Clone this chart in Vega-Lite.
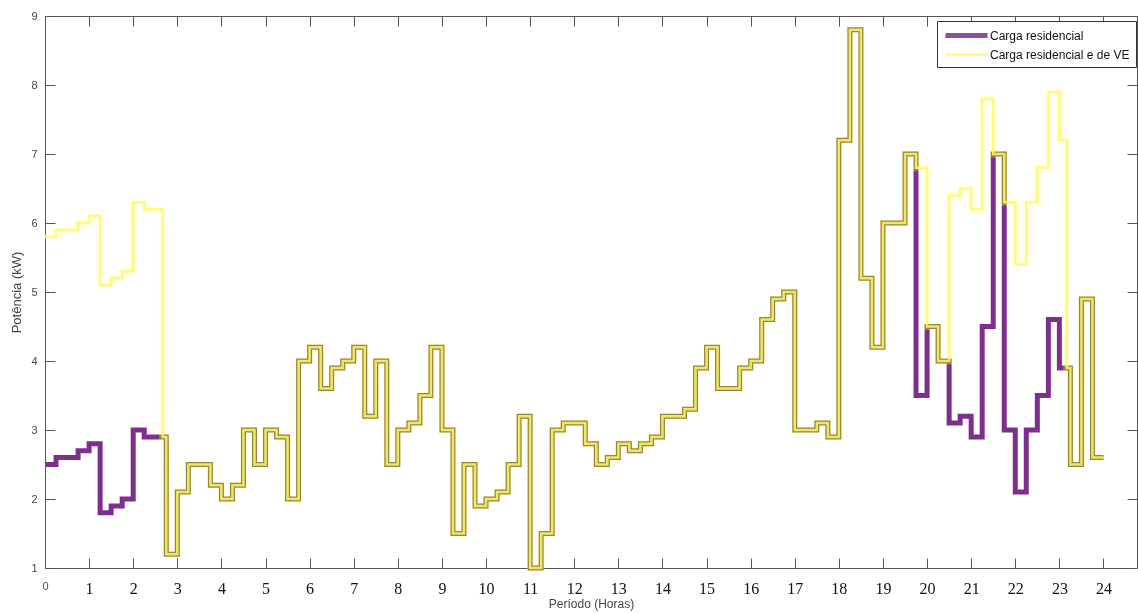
{
  "$schema": "https://vega.github.io/schema/vega-lite/v6.json",
  "autosize": "none",
  "width": 1092,
  "height": 552,
  "padding": {"left": 45, "top": 16, "right": 1, "bottom": 45},
  "background": "white",
  "config": {
    "view": {"stroke": null},
    "axis": {"grid": false, "domainColor": "#555555", "tickColor": "#555555", "domainWidth": 1, "tickWidth": 1}
  },
  "data": {"values": [
    {"serie":"Carga residencial","hora":0,"potencia":2.5},
    {"serie":"Carga residencial","hora":0.25,"potencia":2.6},
    {"serie":"Carga residencial","hora":0.5,"potencia":2.6},
    {"serie":"Carga residencial","hora":0.75,"potencia":2.7},
    {"serie":"Carga residencial","hora":1,"potencia":2.8},
    {"serie":"Carga residencial","hora":1.25,"potencia":1.8},
    {"serie":"Carga residencial","hora":1.5,"potencia":1.9},
    {"serie":"Carga residencial","hora":1.75,"potencia":2.0},
    {"serie":"Carga residencial","hora":2,"potencia":3.0},
    {"serie":"Carga residencial","hora":2.25,"potencia":2.9},
    {"serie":"Carga residencial","hora":2.5,"potencia":2.9},
    {"serie":"Carga residencial","hora":2.75,"potencia":1.2},
    {"serie":"Carga residencial","hora":3,"potencia":2.1},
    {"serie":"Carga residencial","hora":3.25,"potencia":2.5},
    {"serie":"Carga residencial","hora":3.5,"potencia":2.5},
    {"serie":"Carga residencial","hora":3.75,"potencia":2.2},
    {"serie":"Carga residencial","hora":4,"potencia":2.0},
    {"serie":"Carga residencial","hora":4.25,"potencia":2.2},
    {"serie":"Carga residencial","hora":4.5,"potencia":3.0},
    {"serie":"Carga residencial","hora":4.75,"potencia":2.5},
    {"serie":"Carga residencial","hora":5,"potencia":3.0},
    {"serie":"Carga residencial","hora":5.25,"potencia":2.9},
    {"serie":"Carga residencial","hora":5.5,"potencia":2.0},
    {"serie":"Carga residencial","hora":5.75,"potencia":4.0},
    {"serie":"Carga residencial","hora":6,"potencia":4.2},
    {"serie":"Carga residencial","hora":6.25,"potencia":3.6},
    {"serie":"Carga residencial","hora":6.5,"potencia":3.9},
    {"serie":"Carga residencial","hora":6.75,"potencia":4.0},
    {"serie":"Carga residencial","hora":7,"potencia":4.2},
    {"serie":"Carga residencial","hora":7.25,"potencia":3.2},
    {"serie":"Carga residencial","hora":7.5,"potencia":4.0},
    {"serie":"Carga residencial","hora":7.75,"potencia":2.5},
    {"serie":"Carga residencial","hora":8,"potencia":3.0},
    {"serie":"Carga residencial","hora":8.25,"potencia":3.1},
    {"serie":"Carga residencial","hora":8.5,"potencia":3.5},
    {"serie":"Carga residencial","hora":8.75,"potencia":4.2},
    {"serie":"Carga residencial","hora":9,"potencia":3.0},
    {"serie":"Carga residencial","hora":9.25,"potencia":1.5},
    {"serie":"Carga residencial","hora":9.5,"potencia":2.5},
    {"serie":"Carga residencial","hora":9.75,"potencia":1.9},
    {"serie":"Carga residencial","hora":10,"potencia":2.0},
    {"serie":"Carga residencial","hora":10.25,"potencia":2.1},
    {"serie":"Carga residencial","hora":10.5,"potencia":2.5},
    {"serie":"Carga residencial","hora":10.75,"potencia":3.2},
    {"serie":"Carga residencial","hora":11,"potencia":1.0},
    {"serie":"Carga residencial","hora":11.25,"potencia":1.5},
    {"serie":"Carga residencial","hora":11.5,"potencia":3.0},
    {"serie":"Carga residencial","hora":11.75,"potencia":3.1},
    {"serie":"Carga residencial","hora":12,"potencia":3.1},
    {"serie":"Carga residencial","hora":12.25,"potencia":2.8},
    {"serie":"Carga residencial","hora":12.5,"potencia":2.5},
    {"serie":"Carga residencial","hora":12.75,"potencia":2.6},
    {"serie":"Carga residencial","hora":13,"potencia":2.8},
    {"serie":"Carga residencial","hora":13.25,"potencia":2.7},
    {"serie":"Carga residencial","hora":13.5,"potencia":2.8},
    {"serie":"Carga residencial","hora":13.75,"potencia":2.9},
    {"serie":"Carga residencial","hora":14,"potencia":3.2},
    {"serie":"Carga residencial","hora":14.25,"potencia":3.2},
    {"serie":"Carga residencial","hora":14.5,"potencia":3.3},
    {"serie":"Carga residencial","hora":14.75,"potencia":3.9},
    {"serie":"Carga residencial","hora":15,"potencia":4.2},
    {"serie":"Carga residencial","hora":15.25,"potencia":3.6},
    {"serie":"Carga residencial","hora":15.5,"potencia":3.6},
    {"serie":"Carga residencial","hora":15.75,"potencia":3.9},
    {"serie":"Carga residencial","hora":16,"potencia":4.0},
    {"serie":"Carga residencial","hora":16.25,"potencia":4.6},
    {"serie":"Carga residencial","hora":16.5,"potencia":4.9},
    {"serie":"Carga residencial","hora":16.75,"potencia":5.0},
    {"serie":"Carga residencial","hora":17,"potencia":3.0},
    {"serie":"Carga residencial","hora":17.25,"potencia":3.0},
    {"serie":"Carga residencial","hora":17.5,"potencia":3.1},
    {"serie":"Carga residencial","hora":17.75,"potencia":2.9},
    {"serie":"Carga residencial","hora":18,"potencia":7.2},
    {"serie":"Carga residencial","hora":18.25,"potencia":8.8},
    {"serie":"Carga residencial","hora":18.5,"potencia":5.2},
    {"serie":"Carga residencial","hora":18.75,"potencia":4.2},
    {"serie":"Carga residencial","hora":19,"potencia":6.0},
    {"serie":"Carga residencial","hora":19.25,"potencia":6.0},
    {"serie":"Carga residencial","hora":19.5,"potencia":7.0},
    {"serie":"Carga residencial","hora":19.75,"potencia":3.5},
    {"serie":"Carga residencial","hora":20,"potencia":4.5},
    {"serie":"Carga residencial","hora":20.25,"potencia":4.0},
    {"serie":"Carga residencial","hora":20.5,"potencia":3.1},
    {"serie":"Carga residencial","hora":20.75,"potencia":3.2},
    {"serie":"Carga residencial","hora":21,"potencia":2.9},
    {"serie":"Carga residencial","hora":21.25,"potencia":4.5},
    {"serie":"Carga residencial","hora":21.5,"potencia":7.0},
    {"serie":"Carga residencial","hora":21.75,"potencia":3.0},
    {"serie":"Carga residencial","hora":22,"potencia":2.1},
    {"serie":"Carga residencial","hora":22.25,"potencia":3.0},
    {"serie":"Carga residencial","hora":22.5,"potencia":3.5},
    {"serie":"Carga residencial","hora":22.75,"potencia":4.6},
    {"serie":"Carga residencial","hora":23,"potencia":3.9},
    {"serie":"Carga residencial","hora":23.25,"potencia":2.5},
    {"serie":"Carga residencial","hora":23.5,"potencia":4.9},
    {"serie":"Carga residencial","hora":23.75,"potencia":2.6},
    {"serie":"Carga residencial","hora":24,"potencia":2.6},
    {"serie":"Carga residencial e de VE","hora":0,"potencia":5.8},
    {"serie":"Carga residencial e de VE","hora":0.25,"potencia":5.9},
    {"serie":"Carga residencial e de VE","hora":0.5,"potencia":5.9},
    {"serie":"Carga residencial e de VE","hora":0.75,"potencia":6.0},
    {"serie":"Carga residencial e de VE","hora":1,"potencia":6.1},
    {"serie":"Carga residencial e de VE","hora":1.25,"potencia":5.1},
    {"serie":"Carga residencial e de VE","hora":1.5,"potencia":5.2},
    {"serie":"Carga residencial e de VE","hora":1.75,"potencia":5.3},
    {"serie":"Carga residencial e de VE","hora":2,"potencia":6.3},
    {"serie":"Carga residencial e de VE","hora":2.25,"potencia":6.2},
    {"serie":"Carga residencial e de VE","hora":2.5,"potencia":6.2},
    {"serie":"Carga residencial e de VE","hora":2.667,"potencia":2.9},
    {"serie":"Carga residencial e de VE","hora":2.75,"potencia":1.2},
    {"serie":"Carga residencial e de VE","hora":3,"potencia":2.1},
    {"serie":"Carga residencial e de VE","hora":3.25,"potencia":2.5},
    {"serie":"Carga residencial e de VE","hora":3.5,"potencia":2.5},
    {"serie":"Carga residencial e de VE","hora":3.75,"potencia":2.2},
    {"serie":"Carga residencial e de VE","hora":4,"potencia":2.0},
    {"serie":"Carga residencial e de VE","hora":4.25,"potencia":2.2},
    {"serie":"Carga residencial e de VE","hora":4.5,"potencia":3.0},
    {"serie":"Carga residencial e de VE","hora":4.75,"potencia":2.5},
    {"serie":"Carga residencial e de VE","hora":5,"potencia":3.0},
    {"serie":"Carga residencial e de VE","hora":5.25,"potencia":2.9},
    {"serie":"Carga residencial e de VE","hora":5.5,"potencia":2.0},
    {"serie":"Carga residencial e de VE","hora":5.75,"potencia":4.0},
    {"serie":"Carga residencial e de VE","hora":6,"potencia":4.2},
    {"serie":"Carga residencial e de VE","hora":6.25,"potencia":3.6},
    {"serie":"Carga residencial e de VE","hora":6.5,"potencia":3.9},
    {"serie":"Carga residencial e de VE","hora":6.75,"potencia":4.0},
    {"serie":"Carga residencial e de VE","hora":7,"potencia":4.2},
    {"serie":"Carga residencial e de VE","hora":7.25,"potencia":3.2},
    {"serie":"Carga residencial e de VE","hora":7.5,"potencia":4.0},
    {"serie":"Carga residencial e de VE","hora":7.75,"potencia":2.5},
    {"serie":"Carga residencial e de VE","hora":8,"potencia":3.0},
    {"serie":"Carga residencial e de VE","hora":8.25,"potencia":3.1},
    {"serie":"Carga residencial e de VE","hora":8.5,"potencia":3.5},
    {"serie":"Carga residencial e de VE","hora":8.75,"potencia":4.2},
    {"serie":"Carga residencial e de VE","hora":9,"potencia":3.0},
    {"serie":"Carga residencial e de VE","hora":9.25,"potencia":1.5},
    {"serie":"Carga residencial e de VE","hora":9.5,"potencia":2.5},
    {"serie":"Carga residencial e de VE","hora":9.75,"potencia":1.9},
    {"serie":"Carga residencial e de VE","hora":10,"potencia":2.0},
    {"serie":"Carga residencial e de VE","hora":10.25,"potencia":2.1},
    {"serie":"Carga residencial e de VE","hora":10.5,"potencia":2.5},
    {"serie":"Carga residencial e de VE","hora":10.75,"potencia":3.2},
    {"serie":"Carga residencial e de VE","hora":11,"potencia":1.0},
    {"serie":"Carga residencial e de VE","hora":11.25,"potencia":1.5},
    {"serie":"Carga residencial e de VE","hora":11.5,"potencia":3.0},
    {"serie":"Carga residencial e de VE","hora":11.75,"potencia":3.1},
    {"serie":"Carga residencial e de VE","hora":12,"potencia":3.1},
    {"serie":"Carga residencial e de VE","hora":12.25,"potencia":2.8},
    {"serie":"Carga residencial e de VE","hora":12.5,"potencia":2.5},
    {"serie":"Carga residencial e de VE","hora":12.75,"potencia":2.6},
    {"serie":"Carga residencial e de VE","hora":13,"potencia":2.8},
    {"serie":"Carga residencial e de VE","hora":13.25,"potencia":2.7},
    {"serie":"Carga residencial e de VE","hora":13.5,"potencia":2.8},
    {"serie":"Carga residencial e de VE","hora":13.75,"potencia":2.9},
    {"serie":"Carga residencial e de VE","hora":14,"potencia":3.2},
    {"serie":"Carga residencial e de VE","hora":14.25,"potencia":3.2},
    {"serie":"Carga residencial e de VE","hora":14.5,"potencia":3.3},
    {"serie":"Carga residencial e de VE","hora":14.75,"potencia":3.9},
    {"serie":"Carga residencial e de VE","hora":15,"potencia":4.2},
    {"serie":"Carga residencial e de VE","hora":15.25,"potencia":3.6},
    {"serie":"Carga residencial e de VE","hora":15.5,"potencia":3.6},
    {"serie":"Carga residencial e de VE","hora":15.75,"potencia":3.9},
    {"serie":"Carga residencial e de VE","hora":16,"potencia":4.0},
    {"serie":"Carga residencial e de VE","hora":16.25,"potencia":4.6},
    {"serie":"Carga residencial e de VE","hora":16.5,"potencia":4.9},
    {"serie":"Carga residencial e de VE","hora":16.75,"potencia":5.0},
    {"serie":"Carga residencial e de VE","hora":17,"potencia":3.0},
    {"serie":"Carga residencial e de VE","hora":17.25,"potencia":3.0},
    {"serie":"Carga residencial e de VE","hora":17.5,"potencia":3.1},
    {"serie":"Carga residencial e de VE","hora":17.75,"potencia":2.9},
    {"serie":"Carga residencial e de VE","hora":18,"potencia":7.2},
    {"serie":"Carga residencial e de VE","hora":18.25,"potencia":8.8},
    {"serie":"Carga residencial e de VE","hora":18.5,"potencia":5.2},
    {"serie":"Carga residencial e de VE","hora":18.75,"potencia":4.2},
    {"serie":"Carga residencial e de VE","hora":19,"potencia":6.0},
    {"serie":"Carga residencial e de VE","hora":19.25,"potencia":6.0},
    {"serie":"Carga residencial e de VE","hora":19.5,"potencia":7.0},
    {"serie":"Carga residencial e de VE","hora":19.75,"potencia":6.8},
    {"serie":"Carga residencial e de VE","hora":20,"potencia":4.5},
    {"serie":"Carga residencial e de VE","hora":20.25,"potencia":4.0},
    {"serie":"Carga residencial e de VE","hora":20.5,"potencia":6.4},
    {"serie":"Carga residencial e de VE","hora":20.75,"potencia":6.5},
    {"serie":"Carga residencial e de VE","hora":21,"potencia":6.2},
    {"serie":"Carga residencial e de VE","hora":21.25,"potencia":7.8},
    {"serie":"Carga residencial e de VE","hora":21.5,"potencia":7.0},
    {"serie":"Carga residencial e de VE","hora":21.75,"potencia":6.3},
    {"serie":"Carga residencial e de VE","hora":22,"potencia":5.4},
    {"serie":"Carga residencial e de VE","hora":22.25,"potencia":6.3},
    {"serie":"Carga residencial e de VE","hora":22.5,"potencia":6.8},
    {"serie":"Carga residencial e de VE","hora":22.75,"potencia":7.9},
    {"serie":"Carga residencial e de VE","hora":23,"potencia":7.2},
    {"serie":"Carga residencial e de VE","hora":23.167,"potencia":3.9},
    {"serie":"Carga residencial e de VE","hora":23.25,"potencia":2.5},
    {"serie":"Carga residencial e de VE","hora":23.5,"potencia":4.9},
    {"serie":"Carga residencial e de VE","hora":23.75,"potencia":2.6},
    {"serie":"Carga residencial e de VE","hora":24,"potencia":2.6}
  ]},
  "resolve": {"axis": {"x": "independent", "y": "independent"}},
  "layer": [
    {
      "transform": [{"filter": "datum.serie === 'Carga residencial'"}],
      "mark": {"type": "line", "interpolate": "step-after", "strokeJoin": "miter"},
      "encoding": {
        "x": {"field": "hora", "type": "quantitative", "title": "Período (Horas)",
          "scale": {"domain": [0, 24.76], "nice": false, "zero": false},
          "axis": {"orient": "bottom", "values": [0,1,2,3,4,5,6,7,8,9,10,11,12,13,14,15,16,17,18,19,20,21,22,23,24],
            "tickSize": -10, "labelPadding": 22,
            "labelFont": {"condition": {"test": "datum.value === 0", "value": "Liberation Sans"}, "value": "Liberation Serif"},
            "labelFontSize": {"condition": {"test": "datum.value === 0", "value": 11}, "value": 16},
            "labelColor": {"condition": {"test": "datum.value === 0", "value": "#555555"}, "value": "#111111"},
            "labelFlush": false, "labelOverlap": false,
            "titleFont": "Liberation Sans", "titleFontSize": 12, "titleFontWeight": "normal", "titleColor": "#444444", "titlePadding": 2}},
        "y": {"field": "potencia", "type": "quantitative", "title": "Potência (kW)",
          "scale": {"domain": [1, 9], "nice": false, "zero": false},
          "axis": {"orient": "left", "values": [1,2,3,4,5,6,7,8,9], "tickSize": -10, "labelPadding": 18,
            "labelFont": "Liberation Sans", "labelFontSize": 11, "labelColor": "#444444",
            "titleFont": "Liberation Sans", "titleFontSize": 13, "titleFontWeight": "normal", "titleColor": "#444444", "titlePadding": 7}},
        "color": {"field": "serie", "type": "nominal",
          "scale": {"domain": ["Carga residencial", "Carga residencial e de VE"], "range": ["#7E2F8E", "#FFF870"]},
          "legend": {"title": null, "orient": "none", "legendX": 892, "legendY": 5, "direction": "vertical",
            "symbolType": "M-1,0H6", "symbolSize": 144, "symbolOpacity": 1,
            "labelFont": "Liberation Sans", "labelFontSize": 12, "labelColor": "#111111",
            "strokeColor": "#333333", "fillColor": "white", "padding": 6, "rowPadding": 1, "labelOffset": 30}},
        "strokeWidth": {"field": "serie", "type": "nominal",
          "scale": {"domain": ["Carga residencial", "Carga residencial e de VE"], "range": [5, 2.5]},
          "legend": {"title": null, "orient": "none", "legendX": 892, "legendY": 5, "direction": "vertical",
            "symbolType": "M-1,0H6", "symbolSize": 144, "symbolOpacity": 1,
            "labelFont": "Liberation Sans", "labelFontSize": 12, "labelColor": "#111111",
            "strokeColor": "#333333", "fillColor": "white", "padding": 6, "rowPadding": 1, "labelOffset": 30}}
      }
    },
    {
      "transform": [{"filter": "datum.serie === 'Carga residencial e de VE'"}],
      "mark": {"type": "line", "interpolate": "step-after", "strokeWidth": 5.5, "strokeJoin": "miter", "color": "#C8B478", "blend": "color"},
      "encoding": {
        "x": {"field": "hora", "type": "quantitative",
          "axis": {"orient": "top", "values": [0,1,2,3,4,5,6,7,8,9,10,11,12,13,14,15,16,17,18,19,20,21,22,23,24], "tickSize": -10, "labels": false, "title": null}},
        "y": {"field": "potencia", "type": "quantitative",
          "axis": {"orient": "right", "values": [1,2,3,4,5,6,7,8,9], "tickSize": -10, "labels": false, "title": null}}
      }
    },
    {
      "transform": [{"filter": "datum.serie === 'Carga residencial e de VE'"}],
      "mark": {"type": "line", "interpolate": "step-after", "strokeWidth": 7, "strokeJoin": "miter", "color": "#FFFFA0", "opacity": 0.3},
      "encoding": {
        "x": {"field": "hora", "type": "quantitative", "axis": null},
        "y": {"field": "potencia", "type": "quantitative", "axis": null}
      }
    },
    {
      "transform": [{"filter": "datum.serie === 'Carga residencial e de VE'"}],
      "mark": {"type": "line", "interpolate": "step-after", "strokeJoin": "miter", "opacity": 0.85},
      "encoding": {
        "x": {"field": "hora", "type": "quantitative", "axis": null},
        "y": {"field": "potencia", "type": "quantitative", "axis": null},
        "color": {"field": "serie", "type": "nominal"},
        "strokeWidth": {"field": "serie", "type": "nominal"}
      }
    }
  ]
}
